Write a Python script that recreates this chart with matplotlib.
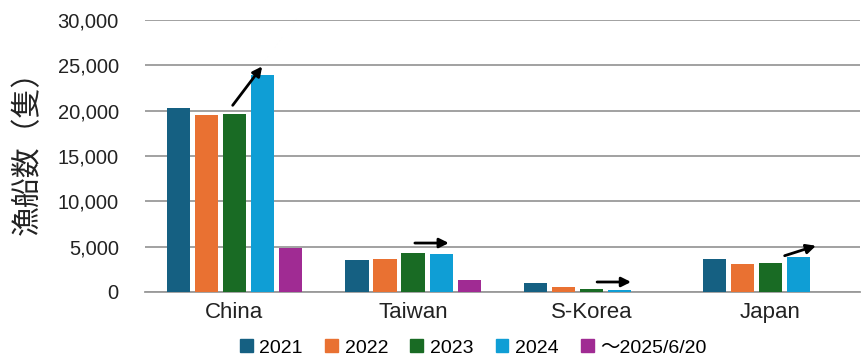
import numpy as np
import matplotlib.pyplot as plt
from matplotlib.patches import Patch

plt.rcParams['font.family'] = ['Liberation Sans', 'Noto Sans CJK JP']

regions = ["China", "Taiwan", "S-Korea", "Japan"]
periods = ["2021", "2022", "2023", "2024", "～2025/6/20"]
boats_2021 = [20300, 3500, 1000, 3600]
boats_2022 = [19500, 3650, 580, 3100]
boats_2023 = [19600, 4350, 300, 3150]
boats_2024 = [24000, 4200, 250, 3900]
boats_2025 = [4900, 1300, 0, 0]
colors = ["#156082", "#E97132", "#196B24", "#0F9ED5", "#A02B93"]

# trend arrows: (region index, x offset start, y start, x offset end, y end)
arrows = [
    (0, -0.01, 20600, 0.155, 24900),
    (1, 0.01, 5400, 0.20, 5400),
    (2, 0.03, 1100, 0.22, 1100),
    (3, 0.08, 4000, 0.255, 5100),
]

series = [boats_2021, boats_2022, boats_2023, boats_2024, boats_2025]

fig = plt.figure(figsize=(8.64, 3.6), dpi=100)
ax = fig.add_axes([0.168, 0.189, 0.827, 0.755])

x = np.arange(len(regions))
width = 0.13
step = 0.157
for i, (vals, c) in enumerate(zip(series, colors)):
    ax.bar(x + (i - 2) * step, vals, width, color=c, zorder=3)

for idx, x0, y0, x1, y1 in arrows:
    ax.annotate("", xy=(idx + x1, y1), xytext=(idx + x0, y0),
                arrowprops=dict(arrowstyle="-|>", color="black", lw=2,
                                mutation_scale=14, shrinkA=0, shrinkB=0),
                zorder=5)

ax.set_xlim(-0.5, len(regions) - 0.5)
ax.set_ylim(0, 30000)
ax.set_yticks(np.arange(0, 30001, 5000))
ax.set_yticklabels([f"{v:,}" for v in range(0, 30001, 5000)])
ax.set_xticks(x)
ax.set_xticklabels(regions)
ax.tick_params(axis="y", length=0, pad=19, labelsize=14.5, colors="#222222")
ax.tick_params(axis="x", length=0, pad=7, labelsize=16, colors="#222222")
ax.grid(axis="y", color="#9a9a9a", lw=1.3, zorder=0)
for s in ["top", "right", "left"]:
    ax.spines[s].set_visible(False)
ax.spines["bottom"].set_color("#9a9a9a")
ax.spines["bottom"].set_linewidth(1.3)

ax.set_ylabel("漁船数（隻）", family="Noto Sans CJK JP", fontsize=21.5,
              color="#222222")
ax.yaxis.set_label_coords(-0.143, 0.54)

handles = [Patch(color=c) for c in colors]
fig.legend(handles, periods, loc="center", bbox_to_anchor=(0.548, 0.033),
           ncol=5, frameon=False, fontsize=14, handlelength=0.65,
           handleheight=0.65, handletextpad=0.35, columnspacing=1.15)

fig.savefig("out.png", dpi=100)
